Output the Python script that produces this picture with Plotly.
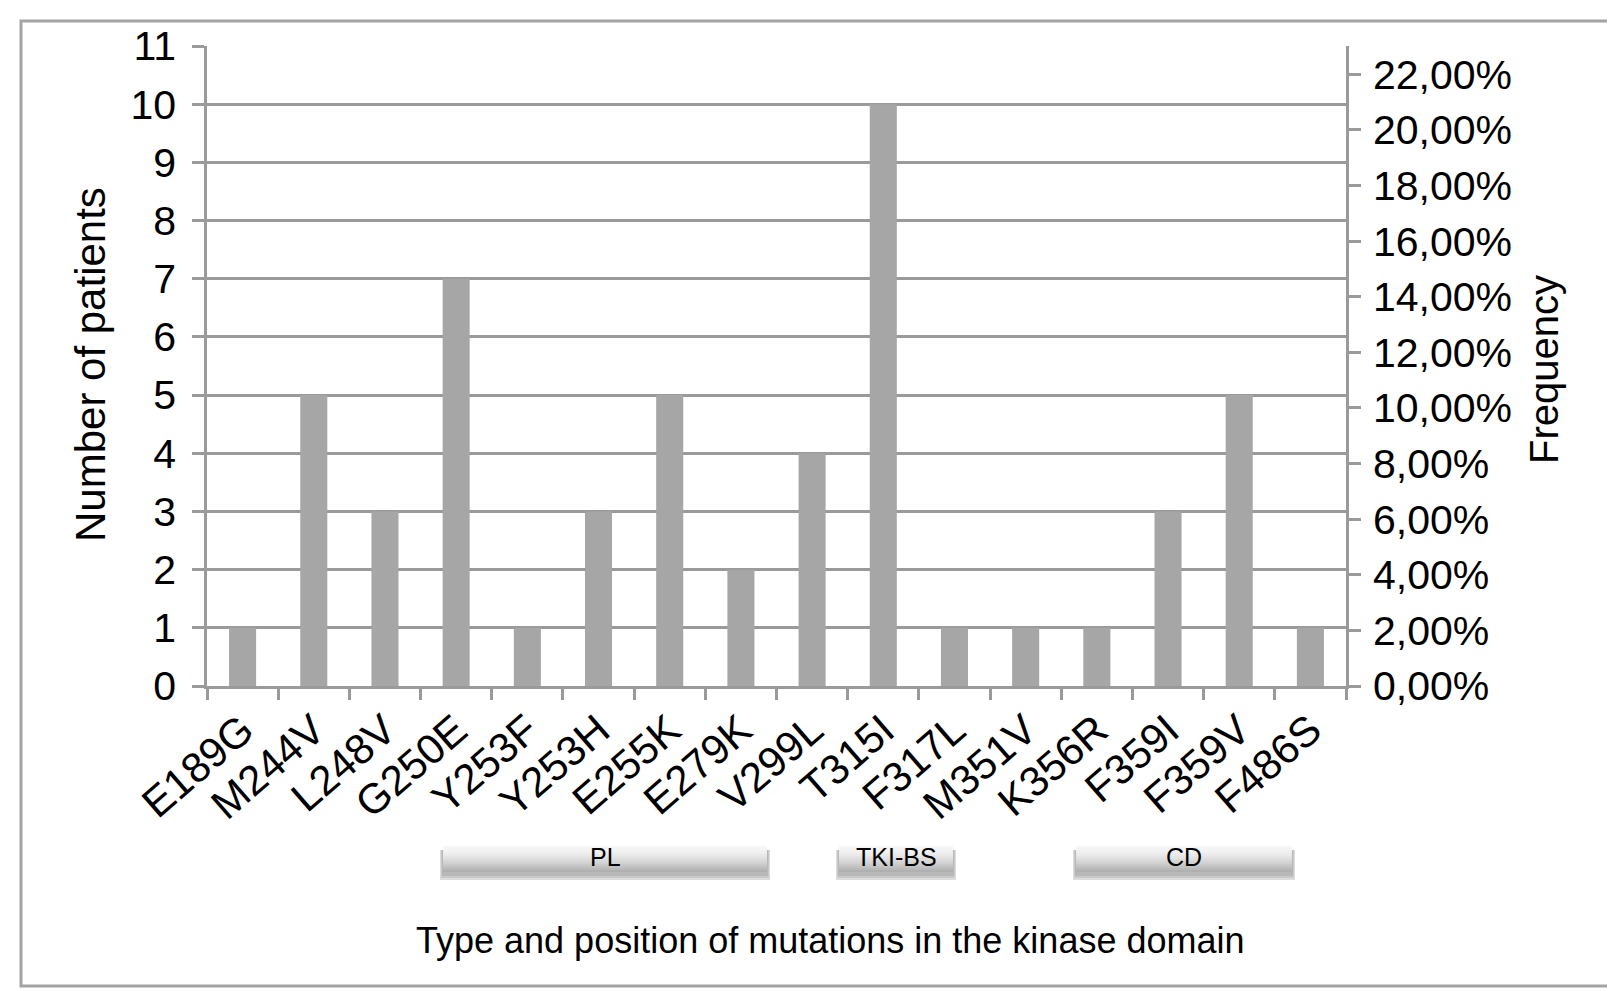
import plotly.graph_objects as go

# ---- data ----
mutations = ["E189G", "M244V", "L248V", "G250E", "Y253F", "Y253H", "E255K", "E279K",
             "V299L", "T315I", "F317L", "M351V", "K356R", "F359I", "F359V", "F486S"]
patients = [1, 5, 3, 7, 1, 3, 5, 2, 4, 10, 1, 1, 1, 3, 5, 1]
count_ticks = list(range(0, 12))
freq_ticks = [0.00, 0.02, 0.04, 0.06, 0.08, 0.10, 0.12, 0.14, 0.16, 0.18, 0.20, 0.22]
freq_labels = ["0,00%", "2,00%", "4,00%", "6,00%", "8,00%", "10,00%", "12,00%",
               "14,00%", "16,00%", "18,00%", "20,00%", "22,00%"]
domain_names = ["PL", "TKI-BS", "CD"]

# ---- layout geometry (pixels) ----
W, H = 1615, 991
L, R, T, B = 199, 1338, 38, 678


def px(xp):
    return (xp - L) / (R - L)


def py(yp):
    return (B - yp) / (B - T)


GRID = "#9a9a9a"
BAR = "#a6a6a6"
FONT = "Liberation Sans, Arial, Helvetica, sans-serif"

fig = go.Figure()
fig.add_trace(go.Bar(x=mutations, y=patients, marker=dict(color=BAR, line=dict(width=0)),
                     showlegend=False, hoverinfo="x+y"))
fig.add_trace(go.Scatter(x=mutations, y=[None] * len(mutations), yaxis="y2",
                         mode="lines", showlegend=False, hoverinfo="skip"))

fig.update_layout(
    width=W, height=H, autosize=False,
    margin=dict(l=L, r=W - R, t=T, b=H - B, pad=0),
    paper_bgcolor="white", plot_bgcolor="white",
    bargap=0.62,
    font=dict(family=FONT, color="black"),
    xaxis=dict(
        type="category", range=[-0.5, len(mutations) - 0.5],
        showgrid=False, showline=True, linecolor=GRID, linewidth=2.5,
        ticks="outside", tickson="boundaries", ticklen=11, tickwidth=2.5, tickcolor=GRID,
        tickangle=-41, tickfont=dict(size=42, family=FONT), zeroline=False,
    ),
    yaxis=dict(
        range=[0, 11.0001], tickvals=count_ticks, showgrid=True, gridcolor=GRID, gridwidth=2.5,
        showline=True, linecolor=GRID, linewidth=2.5, zeroline=False,
        ticks="outside", ticklen=12, tickwidth=2.5, tickcolor=GRID,
        tickfont=dict(size=41, family=FONT), ticklabelstandoff=8,
    ),
    yaxis2=dict(
        overlaying="y", side="right", anchor="x", range=[0, 0.2302],
        tickvals=freq_ticks, ticktext=freq_labels, showgrid=False, zeroline=False,
        showline=True, linecolor=GRID, linewidth=2.5,
        ticks="outside", ticklen=12, tickwidth=2.5, tickcolor=GRID,
        tickfont=dict(size=41, family=FONT), ticklabelstandoff=4,
    ),
)

shapes = []
annotations = []

# outer frame
shapes.append(dict(type="rect", xref="paper", yref="paper",
                   x0=px(13), x1=px(1603), y0=py(978), y1=py(13),
                   line=dict(color="#a3a3a3", width=3), fillcolor="rgba(0,0,0,0)", layer="below"))

# domain boxes (gradient bars with shadow)
box_spans = [(435, 759), (831, 945), (1068, 1284)]
box_top, box_bot = 838, 864
for name, (x0, x1) in zip(domain_names, box_spans):
    # shadow
    for k, c in enumerate(["#dcdcdc", "#c9c9c9", "#b8b8b8"]):
        shapes.append(dict(type="rect", xref="paper", yref="paper",
                           x0=px(x0 - 3 + k), x1=px(x1 + 3 - k),
                           y0=py(box_bot + 8 - 2 * k), y1=py(box_top + 4),
                           line=dict(width=0), fillcolor=c, layer="above"))
    n = 13
    for i in range(n):
        t = i / (n - 1)
        g = int(246 - 70 * t ** 1.6)
        ya = box_top + (box_bot - box_top) * i / n
        yb = box_top + (box_bot - box_top) * (i + 1) / n
        shapes.append(dict(type="rect", xref="paper", yref="paper",
                           x0=px(x0), x1=px(x1), y0=py(yb), y1=py(ya),
                           line=dict(width=0), fillcolor=f"rgb({g},{g},{g})", layer="above"))
    annotations.append(dict(text=name, xref="paper", yref="paper",
                            x=px((x0 + x1) / 2), y=py((box_top + box_bot) / 2 - 2),
                            showarrow=False, xanchor="center", yanchor="middle",
                            font=dict(size=25, family=FONT, color="black")))

# axis titles
annotations.append(dict(text="Number of patients", xref="paper", yref="paper",
                        x=px(82), y=py(357), textangle=-90, showarrow=False,
                        xanchor="center", yanchor="middle",
                        font=dict(size=42, family=FONT, color="black")))
annotations.append(dict(text="Frequency", xref="paper", yref="paper",
                        x=px(1536), y=py(362), textangle=-90, showarrow=False,
                        xanchor="center", yanchor="middle",
                        font=dict(size=40, family=FONT, color="black")))
annotations.append(dict(text="Type and position of mutations in the kinase domain",
                        xref="paper", yref="paper", x=px(822), y=py(932), showarrow=False,
                        xanchor="center", yanchor="middle",
                        font=dict(size=36, family=FONT, color="black")))

fig.update_layout(shapes=shapes, annotations=annotations)
fig.write_html("out.html")
